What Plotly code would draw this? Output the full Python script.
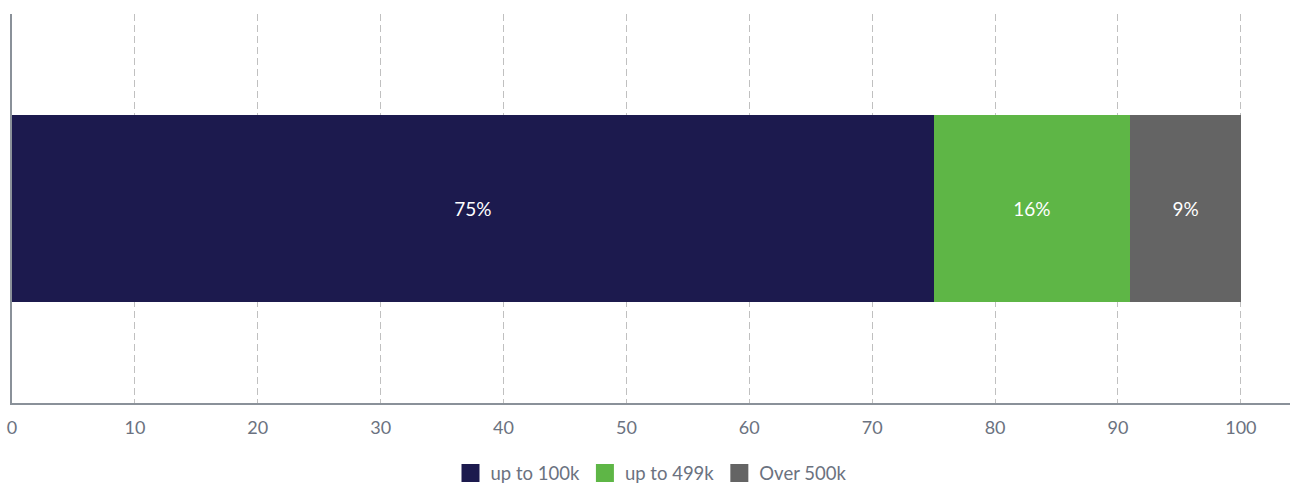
import plotly.graph_objects as go

categories = ["Share"]
series_names = ["up to 100k", "up to 499k", "Over 500k"]
series_values = [75, 16, 9]
series_labels = ["75%", "16%", "9%"]
colors = ["#1c1a4e", "#5eb646", "#646464"]
tick_values = [0, 10, 20, 30, 40, 50, 60, 70, 80, 90, 100]

fig = go.Figure()
for name, val, lab, col in zip(series_names, series_values, series_labels, colors):
    fig.add_trace(go.Bar(
        y=categories, x=[val], orientation="h", name=name,
        marker=dict(color=col, line=dict(width=0)),
        text=[lab], textposition="inside", insidetextanchor="middle",
        textfont=dict(color="white", size=19, family="Lato"),
        showlegend=False, hoverinfo="skip",
    ))
    fig.add_trace(go.Scatter(
        x=[None], y=[None], mode="markers", name=name,
        marker=dict(symbol="square", size=16, color=col,
                    line=dict(color=col, width=2)),
    ))

fig.update_layout(
    width=1291, height=488,
    barmode="stack", bargap=0.52,
    margin=dict(l=12, r=1, t=14, b=85, autoexpand=False),
    plot_bgcolor="white", paper_bgcolor="white",
    font=dict(family="Lato", color="#6b7280", size=18),
    showlegend=True,
    legend=dict(orientation="h", x=0.5, xanchor="center", y=-0.181, yanchor="middle",
                traceorder="normal",
                font=dict(size=18.5, color="#6b7280"), itemwidth=30, tracegroupgap=0),
    xaxis=dict(range=[0, 104], tickvals=tick_values, showgrid=True,
               gridcolor="#c0c0c0", griddash="7px,4px", gridwidth=1,
               zeroline=False, showline=True, linecolor="#8a9199", linewidth=2,
               ticks="", ticklabelstandoff=7,
               tickfont=dict(size=18, color="#6b7280"), fixedrange=True),
    yaxis=dict(showticklabels=False, showgrid=False, zeroline=False,
               showline=True, linecolor="#8a9199", linewidth=2, ticks="",
               range=[-0.5, 0.5], fixedrange=True),
)

fig.write_html("out.html")
